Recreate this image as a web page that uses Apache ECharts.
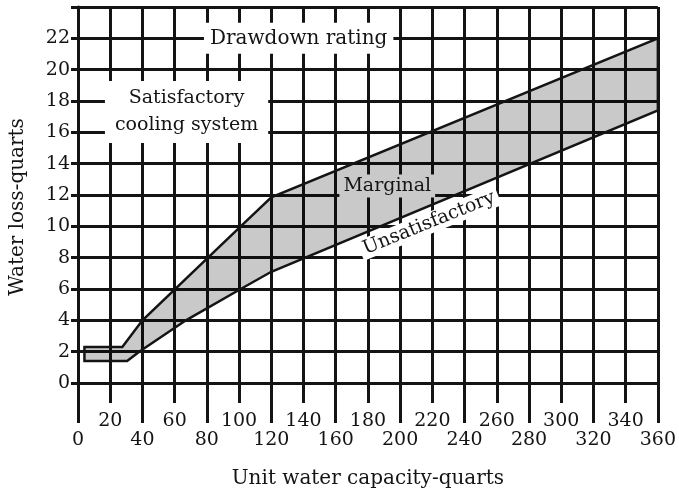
<!DOCTYPE html>
<html>
<head>
<meta charset="utf-8">
<script src="https://cdn.jsdelivr.net/npm/echarts@6/dist/echarts.min.js"></script>
<style>
html,body{margin:0;padding:0;background:#fff;}
#chart{width:679px;height:494px;}
</style>
</head>
<body>
<div id="chart"></div>
<script>
// Upper boundary of the "Marginal" band (x: unit water capacity, y: water loss)
const upperX = [4, 27.5, 40, 101, 120, 360];
const upperY = [2.3, 2.3, 4, 10, 11.85, 22];
// Lower boundary of the band
const lowerX = [4, 30.5, 38, 67, 101, 120, 360];
const lowerY = [1.4, 1.4, 2, 4, 6, 7.1, 17.4];

const FONT = 'DejaVu Serif';
const INK = '#141414';
const LW = 3;

const chart = echarts.init(document.getElementById('chart'), null, {renderer: 'canvas'});

chart.setOption({
  animation: false,
  backgroundColor: '#fff',
  grid: {left: 75, right: 16, top: 7, bottom: 111, containLabel: false},
  xAxis: [
    {
      type: 'value', min: 0, max: 360, interval: 40, position: 'bottom',
      name: 'Unit water capacity-quarts', nameLocation: 'middle', nameGap: 86,
      nameTextStyle: {fontFamily: FONT, fontSize: 20, color: INK},
      axisLine: {show: true, lineStyle: {color: INK, width: LW}},
      axisTick: {show: true, length: 40, lineStyle: {color: INK, width: LW}},
      axisLabel: {margin: 48, fontFamily: FONT, fontSize: 19, color: INK},
      splitLine: {show: false}
    },
    {
      type: 'value', min: 0, max: 360, interval: 20, position: 'bottom',
      axisLine: {show: false},
      axisTick: {show: true, length: 20, lineStyle: {color: INK, width: LW}},
      axisLabel: {margin: 29, fontFamily: FONT, fontSize: 19, color: INK,
        formatter: v => (v % 40 === 20 ? String(v) : '')},
      splitLine: {show: true, lineStyle: {color: INK, width: LW}}
    }
  ],
  yAxis: {
    type: 'value', min: 0, max: 24, interval: 2,
    name: 'Water loss-quarts', nameLocation: 'middle', nameGap: 50,
    nameTextStyle: {fontFamily: FONT, fontSize: 20, color: INK, padding: [0, 24, 0, 0]},
    axisLine: {show: true, lineStyle: {color: INK, width: LW}},
    axisTick: {show: true, length: 7, lineStyle: {color: INK, width: LW}},
    axisLabel: {margin: 8, fontFamily: FONT, fontSize: 19, color: INK,
      formatter: v => (v === 24 ? '' : String(v))},
    splitLine: {show: true, lineStyle: {color: INK, width: LW}}
  },
  series: [
    {
      type: 'custom',
      xAxisIndex: 0,
      z: 3,
      data: [[0, 0]],
      renderItem: (params, api) => {
        const up = upperX.map((x, i) => api.coord([x, upperY[i]]));
        const lo = lowerX.map((x, i) => api.coord([x, lowerY[i]])).reverse();
        return {
          type: 'polygon',
          shape: {points: up.concat(lo)},
          style: {fill: 'rgba(0,0,0,0.21)', stroke: INK, lineWidth: 2.5, lineJoin: 'miter'}
        };
      }
    }
  ]
});

// Annotations placed in data coordinates through the chart's own scales
function at(x, y) { return chart.convertToPixel({xAxisIndex: 0, yAxisIndex: 0}, [x, y]); }
function note(text, x, y, extra) {
  const p = at(x, y);
  return Object.assign({
    type: 'text', x: p[0], y: p[1], z: 100,
    style: Object.assign({
      text: text, font: '19px "DejaVu Serif"', fill: INK,
      align: 'center', verticalAlign: 'middle',
      backgroundColor: '#ffffff', padding: [2, 4, 2, 4]
    }, extra.style || {})
  }, extra.el || {});
}
chart.setOption({
  graphic: [
    note('Drawdown rating', 137, 22, {style: {font: '20px "DejaVu Serif"', padding: [6, 6, 5, 6]}}),
    note('Satisfactory\ncooling system', 67.4, 17.3, {style: {lineHeight: 27, padding: [5, 10, 3, 10]}}),
    note('Marginal', 192, 12.57, {style: {backgroundColor: '#c9c9c9', padding: [2, 4, 2, 4]}}),
    note('Unsatisfactory', 218, 10.2, {style: {padding: [1, 4, 1, 4]}, el: {rotation: 22 * Math.PI / 180}})
  ]
});
</script>
</body>
</html>
